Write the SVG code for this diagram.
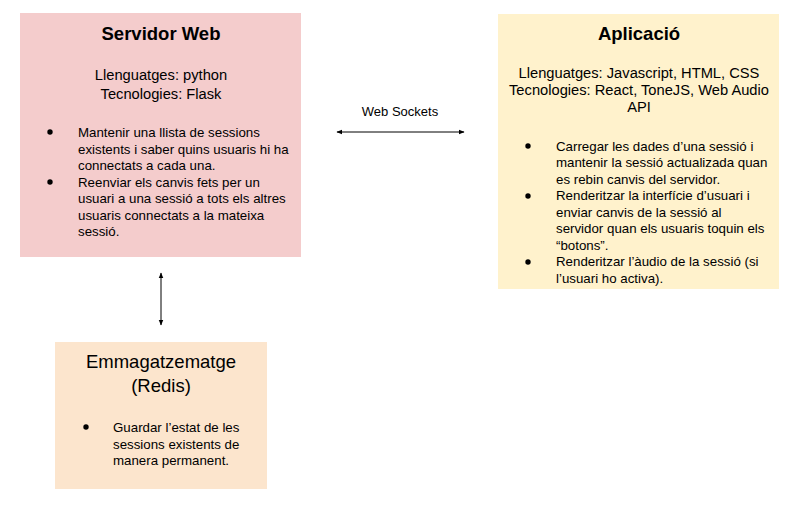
<svg xmlns="http://www.w3.org/2000/svg" width="798" height="508" viewBox="0 0 798 508">
<style>
text{font-family:"Liberation Sans",Arial,sans-serif;fill:#000}
.t{font-size:18.5px;text-anchor:middle}
.b{font-weight:bold}
.s{font-size:14.7px;text-anchor:middle}
.l{font-size:13.3px}
.c{stroke:#000;stroke-width:1;fill:none}
</style>
<defs>
<marker id="ah" viewBox="0 0 10 10" refX="9" refY="5" markerWidth="6" markerHeight="6" orient="auto-start-reverse">
<path d="M0,1 L10,5 L0,9 z" fill="#000"/>
</marker>
</defs>
<rect width="798" height="508" fill="#fff"/>
<g id="servidor">
<rect x="20" y="13" width="281" height="244" fill="#f4cccc"/>
<text class="t b" x="161" y="40">Servidor Web</text>
<text class="s" x="161" y="80">Llenguatges: python</text>
<text class="s" x="161" y="99">Tecnologies: Flask</text>
<circle cx="50" cy="132" r="2.7"/>
<text class="l" x="78" y="137">Mantenir una llista de sessions</text>
<text class="l" x="78" y="153.5">existents i saber quins usuaris hi ha</text>
<text class="l" x="78" y="170">connectats a cada una.</text>
<circle cx="50" cy="182" r="2.7"/>
<text class="l" x="78" y="186.5">Reenviar els canvis fets per un</text>
<text class="l" x="78" y="203">usuari a una sessió a tots els altres</text>
<text class="l" x="78" y="219.5">usuaris connectats a la mateixa</text>
<text class="l" x="78" y="236">sessió.</text>
</g>
<g id="aplicacio">
<rect x="498" y="14" width="281" height="275" fill="#fff2cc"/>
<text class="t b" x="639" y="40">Aplicació</text>
<text class="s" x="639" y="78">Llenguatges: Javascript, HTML, CSS</text>
<text class="s" x="639" y="95">Tecnologies: React, ToneJS, Web Audio</text>
<text class="s" x="639" y="112">API</text>
<circle cx="528" cy="146" r="2.7"/>
<text class="l" x="556" y="150.5">Carregar les dades d’una sessió i</text>
<text class="l" x="556" y="167">mantenir la sessió actualizada quan</text>
<text class="l" x="556" y="183.5">es rebin canvis del servidor.</text>
<circle cx="528" cy="196" r="2.7"/>
<text class="l" x="556" y="200">Renderitzar la interfície d’usuari i</text>
<text class="l" x="556" y="216.5">enviar canvis de la sessió al</text>
<text class="l" x="556" y="233">servidor quan els usuaris toquin els</text>
<text class="l" x="556" y="249.5">“botons”.</text>
<circle cx="528" cy="262" r="2.7"/>
<text class="l" x="556" y="266">Renderitzar l’àudio de la sessió (si</text>
<text class="l" x="556" y="282.5">l’usuari ho activa).</text>
</g>
<g id="emmagatzematge">
<rect x="55" y="342" width="212" height="147" fill="#fce5cd"/>
<text class="t" x="161" y="368">Emmagatzematge</text>
<text class="t" x="161" y="392">(Redis)</text>
<circle cx="86" cy="427" r="2.7"/>
<text class="l" x="113" y="432">Guardar l’estat de les</text>
<text class="l" x="113" y="448.5">sessions existents de</text>
<text class="l" x="113" y="465">manera permanent.</text>
</g>
<g id="connectors">
<line class="c" x1="337" y1="132" x2="464" y2="132" marker-start="url(#ah)" marker-end="url(#ah)"/>
<text x="400" y="116" style="font-size:13px;text-anchor:middle">Web Sockets</text>
<line class="c" x1="161" y1="273" x2="161" y2="325" marker-start="url(#ah)" marker-end="url(#ah)"/>
</g>
</svg>
